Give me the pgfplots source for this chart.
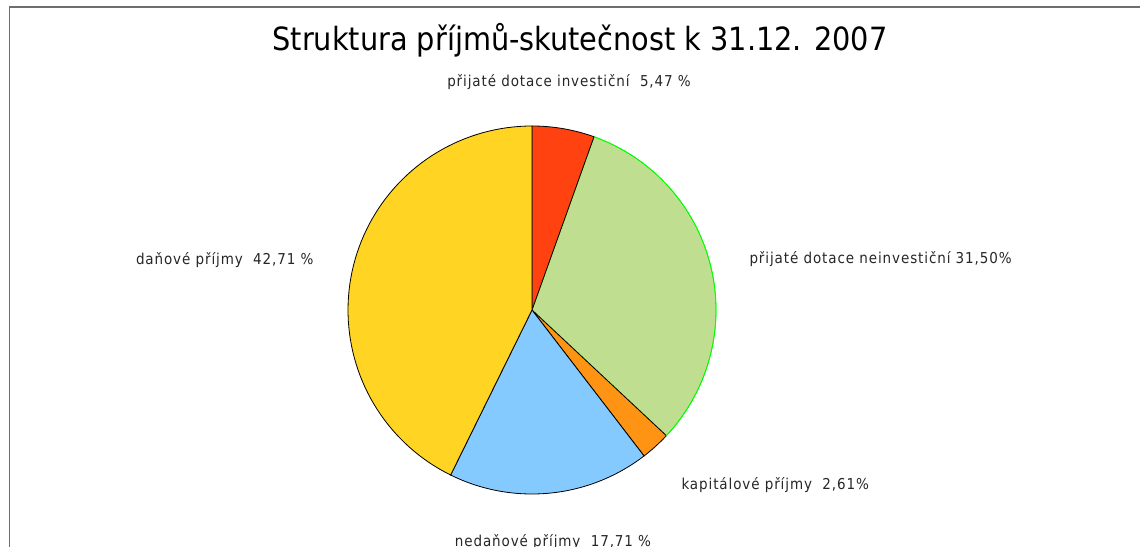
\documentclass[border=0pt]{standalone}
\usepackage{pgfplots}
\pgfplotsset{compat=1.18}
\usepackage{fontspec}
\setmainfont{DejaVu Sans Condensed}
\newfontfamily\labelfont{DejaVu Sans Condensed}[LetterSpace=6]
\definecolor{cinv}{RGB}{255,66,16}
\definecolor{cneinv}{RGB}{192,222,144}
\definecolor{ckap}{RGB}{255,148,20}
\definecolor{cned}{RGB}{133,202,255}
\definecolor{cdan}{RGB}{255,212,34}
\definecolor{frame}{RGB}{110,110,110}
\begin{document}
\begin{tikzpicture}[x=1pt,y=1pt]
\useasboundingbox (0,0) rectangle (1140,546);
\draw[frame,line width=1.6pt] (1145,539) -- (9.5,539) -- (9.5,-5);
\node[font=\fontsize{32}{36}\selectfont] at (580,506) {Struktura příjmů-skutečnost k 31.12. 2007};
\begin{axis}[
  at={(532pt,236pt)}, anchor=origin,
  scale only axis, width=368pt, height=368pt,
  xmin=-1, xmax=1, ymin=-1, ymax=1,
  hide axis, clip=false,
  every axis plot/.append style={line width=0.8pt, samples=80, variable=\t},
]
% values in percent: 5.47, 31.50, 2.61, 17.71, 42.71 (clockwise from top)
\addplot[fill=cneinv, draw=green, domain={90-3.6*(5.47+31.50)}:{90-3.6*5.47}] ({cos(\t)},{sin(\t)}) -- (axis cs:0,0) -- cycle;
\addplot[fill=cinv, draw=black, domain={90-3.6*5.47}:{90}] ({cos(\t)},{sin(\t)}) -- (axis cs:0,0) -- cycle;
\addplot[fill=ckap, draw=black, domain={90-3.6*(5.47+31.50+2.61)}:{90-3.6*(5.47+31.50)}] ({cos(\t)},{sin(\t)}) -- (axis cs:0,0) -- cycle;
\addplot[fill=cned, draw=black, domain={90-3.6*(5.47+31.50+2.61+17.71)}:{90-3.6*(5.47+31.50+2.61)}] ({cos(\t)},{sin(\t)}) -- (axis cs:0,0) -- cycle;
\addplot[fill=cdan, draw=black, domain={-270}:{90-3.6*(5.47+31.50+2.61+17.71)}] ({cos(\t)},{sin(\t)}) -- (axis cs:0,0) -- cycle;
\draw[green, line width=0.8pt] (axis cs:{cos(90-3.6*(5.47+31.50))},{sin(90-3.6*(5.47+31.50))}) arc[start angle={90-3.6*(5.47+31.50)}, end angle={90-3.6*5.47}, radius=184pt];
\end{axis}
\begin{scope}[every node/.style={font=\labelfont\fontsize{15}{18}\selectfont, text=black!85}]
\node at (569,464) {přijaté dotace investiční\ \ 5,47 \%};
\node[anchor=west] at (746,287) {přijaté dotace neinvestiční 31,50\%};
\node[anchor=east] at (317,286) {daňové příjmy\ \ 42,71 \%};
\node[anchor=west] at (678,61) {kapitálové příjmy\ \ 2,61\%};
\node at (553,4) {nedaňové příjmy\ \ 17,71 \%};
\end{scope}
\end{tikzpicture}
\end{document}
